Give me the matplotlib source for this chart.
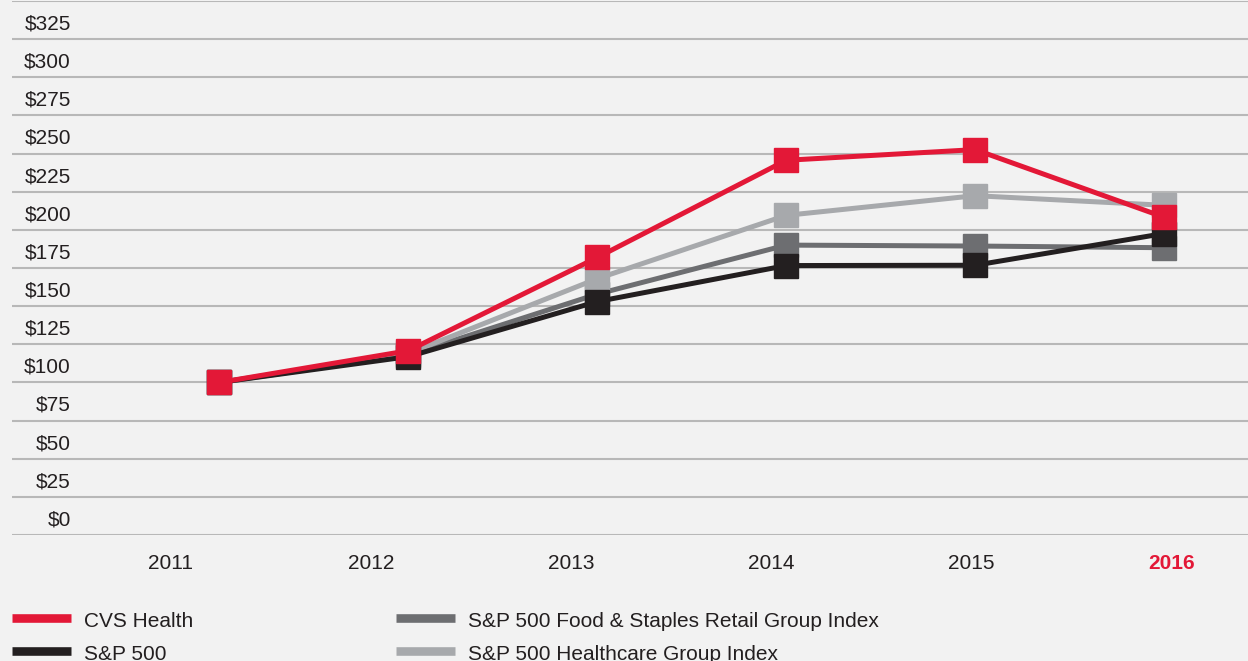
import matplotlib
matplotlib.use("Agg")
import matplotlib.pyplot as plt
from matplotlib.lines import Line2D
from matplotlib.transforms import blended_transform_factory

plt.rcParams['font.family'] = ['Liberation Sans', 'DejaVu Sans']

years = ["2011", "2012", "2013", "2014", "2015", "2016"]
cvs_health = [100, 120.8, 181.9, 245.6, 252.6, 208.3]
sp500 = [100, 116.9, 153.0, 176.6, 176.8, 197.6]
sp500_food_staples = [100, 118.0, 157.9, 190.0, 189.4, 188.3]
sp500_healthcare = [100, 119.0, 168.0, 209.5, 222.4, 216.1]
y_ticks = list(range(0, 351, 25))
y_tick_labels = [f"${v}" for v in y_ticks[:-1]]

series_names = ["CVS Health", "S&P 500", "S&P 500 Food & Staples Retail Group Index",
                "S&P 500 Healthcare Group Index"]
RED = "#e31837"
BLACK = "#231f20"
DGRAY = "#6d6e71"
LGRAY = "#a7a9ac"
BG = "#f2f2f2"
TXT = "#231f20"

W, H = 1248, 661
fig = plt.figure(figsize=(W / 100, H / 100), dpi=100, facecolor=BG)
ax = fig.add_axes([12 / W, (H - 535) / H, (W - 12) / W, 534 / H])
ax.set_facecolor(BG)
for s in ax.spines.values():
    s.set_visible(False)

x = list(range(len(years)))
ax.set_xlim(-207.5 / 189, 5 + 84 / 189)
ax.set_ylim(0, 350)
ax.set_yticks(y_ticks)
ax.set_xticks([])
ax.tick_params(left=False, labelleft=False)
ax.yaxis.grid(True, color="#b8b8b8", lw=1.5, zorder=0)
ax.set_axisbelow(True)

lw = 3.6
ms = 17
ax.plot(x, sp500_food_staples, color=DGRAY, lw=lw, marker="s", ms=ms, zorder=2,
        solid_joinstyle="miter", clip_on=False)
ax.plot(x, sp500_healthcare, color=LGRAY, lw=lw, marker="s", ms=ms, zorder=3,
        solid_joinstyle="miter", clip_on=False)
ax.plot(x, sp500, color=BLACK, lw=lw, marker="s", ms=ms, zorder=4,
        solid_joinstyle="miter", clip_on=False)
ax.plot(x, cvs_health, color=RED, lw=lw, marker="s", ms=ms, zorder=5,
        solid_joinstyle="miter", clip_on=False)

# y labels, sitting above their gridlines
tr = blended_transform_factory(ax.transAxes, ax.transData)
for v, lab in zip(y_ticks, y_tick_labels):
    ax.text((71 - 12) / (W - 12), v + 6.3, lab, transform=tr, ha="right", va="baseline",
            fontsize=15, color=TXT)

# x labels
for i, yr in enumerate(years):
    last = i == len(years) - 1
    fig.text((170.5 + i * 200.2) / W, (H - 569) / H, yr, ha="center", va="baseline",
             fontsize=15, color=RED if last else TXT,
             fontweight="bold" if last else "normal")

# legend
leg_colors = [RED, BLACK, DGRAY, LGRAY]
pos = [(12, 617.5, 84), (12, 651, 84), (396, 617.5, 468), (396, 651, 468)]
for name, c, (lx, ly, tx) in zip(series_names, leg_colors, pos):
    fig.add_artist(Line2D([lx / W, (lx + 59) / W], [(H - ly) / H, (H - ly) / H],
                          transform=fig.transFigure, color=c, lw=6.2,
                          solid_capstyle="butt"))
    fig.text(tx / W, (H - ly - 9.5) / H, name, ha="left", va="baseline",
             fontsize=15, color=TXT)

fig.savefig("out.png", dpi=100, facecolor=BG)
